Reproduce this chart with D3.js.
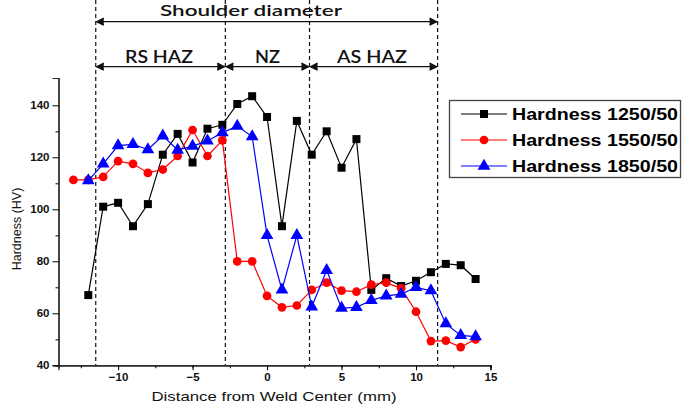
<!DOCTYPE html>
<html><head><meta charset="utf-8">
<script src="https://cdn.jsdelivr.net/npm/d3@7"></script>
<style>body{margin:0;background:#fff}svg{display:block}</style>
</head><body>
<svg id="c" width="685" height="405"></svg>
<script>
const xs1250 = [-12,-11,-10,-9,-8,-7,-6,-5,-4,-3,-2,-1,0,1,2,3,4,5,6,7,8,9,10,11,12,13,14];
const h1250 = [67,101,102.5,93.5,102,121,129,118,131,132.5,140.5,143.5,135.5,93.5,134,121,130,116,127,69,73.5,70.5,72.5,75.8,79,78.5,73.2];
const xs1550 = [-13,-12,-11,-10,-9,-8,-7,-6,-5,-4,-3,-2,-1,0,1,2,3,4,5,6,7,8,9,10,11,12,13,14];
const h1550 = [111.3,111.3,112.5,118.5,117.5,114,115.3,120.5,130.5,120.5,126.5,80,80,66.7,62.3,63,69,71.8,68.7,68.3,71,71.8,69.6,60.6,49.3,49.5,47,50];
const xs1850 = [-12,-11,-10,-9,-8,-7,-6,-5,-4,-3,-2,-1,0,1,2,3,4,5,6,7,8,9,10,11,12,13,14];
const h1850 = [111,117.5,124.5,125,123,128.3,122.8,124.3,126.3,129.5,132,128,90,69,90,62.5,76.5,62,62.3,65,66.7,67.4,70,68.7,56,51.5,51];
const seriesNames = ["Hardness 1250/50","Hardness 1550/50","Hardness 1850/50"];
const xTicks = [-10,-5,0,5,10,15];
const yTicks = [40,60,80,100,120,140];
const zoneBounds = [-11.5,-2.8,2.85,11.45];
const zoneNames = ["RS HAZ","NZ","AS HAZ"];
const topLabel = "Shoulder diameter";

const svg = d3.select("#c");
const x = d3.scaleLinear().domain([-14,15]).range([58.5,490.5]);
const y = d3.scaleLinear().domain([40,150.5]).range([365.3,78]);

// axes
const gx = svg.append("g").attr("transform","translate(0,365.3)");
gx.call(d3.axisBottom(x).tickValues(d3.range(-12.5,15.01,2.5)).tickSize(3).tickFormat(""));
const gx2 = svg.append("g").attr("transform","translate(0,365.3)");
gx2.call(d3.axisBottom(x).tickValues(xTicks).tickSize(5).tickPadding(3).tickFormat(d3.format("d")));
gx2.selectAll("text").attr("font-family","Liberation Sans, Arial").attr("font-size",11.5).attr("font-weight","bold").attr("fill","#111");
[gx,gx2].forEach(g=>g.select(".domain").attr("stroke","#222").attr("stroke-width",1.2));

const gy = svg.append("g").attr("transform","translate(58.5,0)");
gy.call(d3.axisLeft(y).tickValues(d3.range(50,150,20)).tickSize(3).tickFormat(""));
const gy2 = svg.append("g").attr("transform","translate(58.5,0)");
gy2.call(d3.axisLeft(y).tickValues(yTicks).tickSize(6).tickPadding(3).tickFormat(d3.format("d")));
gy2.selectAll("text").attr("font-family","Liberation Sans, Arial").attr("font-size",11.5).attr("font-weight","bold").attr("fill","#111");
[gy,gy2].forEach(g=>g.select(".domain").attr("stroke","#222").attr("stroke-width",1.2));

// axis labels
svg.append("text").attr("x",274).attr("y",401).attr("text-anchor","middle")
  .attr("font-family","Liberation Sans, Arial").attr("font-size",13.5).attr("fill","#111")
  .attr("textLength",245).attr("lengthAdjust","spacingAndGlyphs").text("Distance from Weld Center (mm)");
svg.append("text").attr("transform","translate(21,229) rotate(-90)").attr("text-anchor","middle")
  .attr("font-family","Liberation Sans, Arial").attr("font-size",12.5).attr("fill","#111").text("Hardness (HV)");

// dashed zone lines
svg.selectAll("line.zone").data(zoneBounds).enter().append("line")
  .attr("x1",d=>x(d)).attr("x2",d=>x(d)).attr("y1",0).attr("y2",365)
  .attr("stroke","#111").attr("stroke-width",1.2).attr("stroke-dasharray","4,3");

function arrow(x1,x2,yy){
  const g = svg.append("g").attr("stroke","#111").attr("stroke-width",1.3).attr("fill","none");
  g.append("line").attr("x1",x1+1).attr("x2",x2-1).attr("y1",yy).attr("y2",yy);
  g.append("path").attr("d",`M${x1+8},${yy-3.5}L${x1+1},${yy}L${x1+8},${yy+3.5}`).attr("fill","#111");
  g.append("path").attr("d",`M${x2-8},${yy-3.5}L${x2-1},${yy}L${x2-8},${yy+3.5}`).attr("fill","#111");
}
arrow(x(zoneBounds[0]),x(zoneBounds[3]),21.7);
for(let i=0;i<3;i++) arrow(x(zoneBounds[i]),x(zoneBounds[i+1]),66.7);
svg.append("text").attr("x",251).attr("y",15.5).attr("text-anchor","middle")
  .attr("font-family","Lato, Open Sans").attr("font-size",15.5).attr("font-weight","600").attr("fill","#111")
  .attr("textLength",182).attr("lengthAdjust","spacingAndGlyphs").text(topLabel);
const zoneCenters = [159,267.5,372];
const zoneWidths = [68,25,70];
zoneNames.forEach((n,i)=>svg.append("text").attr("x",zoneCenters[i]).attr("y",63).attr("text-anchor","middle")
  .attr("font-family","Lato, Open Sans").attr("font-size",17).attr("font-weight","600").attr("fill","#111")
  .attr("textLength",zoneWidths[i]).attr("lengthAdjust","spacingAndGlyphs").text(n));

// series
const cols = ["#000000","#ff0000","#0000ff"];
const sets = [[xs1250,h1250],[xs1550,h1550],[xs1850,h1850]];
const line = d3.line().x(d=>x(d[0])).y(d=>y(d[1]));
const symTypes = [d3.symbolSquare,d3.symbolCircle,d3.symbolTriangle];
const symSizes = [64,60,70];
sets.forEach((s,i)=>{
  const pts = s[0].map((v,j)=>[v,s[1][j]]);
  svg.append("path").datum(pts).attr("d",line).attr("fill","none").attr("stroke",cols[i]).attr("stroke-width",1.2);
  svg.append("g").selectAll("path").data(pts).enter().append("path")
    .attr("transform",d=>`translate(${x(d[0])},${y(d[1])})`)
    .attr("d",d3.symbol().type(symTypes[i]).size(symSizes[i])).attr("fill",cols[i]);
});

// legend
const lg = svg.append("g");
lg.append("rect").attr("x",449.5).attr("y",100.5).attr("width",231).attr("height",77).attr("fill","#fff").attr("stroke","#444").attr("stroke-width",1.3);
seriesNames.forEach((n,i)=>{
  const yy = 114 + i*26;
  lg.append("line").attr("x1",461).attr("x2",507).attr("y1",yy).attr("y2",yy).attr("stroke",cols[i]).attr("stroke-width",1.2);
  lg.append("path").attr("transform",`translate(484,${yy})`).attr("d",d3.symbol().type(symTypes[i]).size(symSizes[i])).attr("fill",cols[i]);
  lg.append("text").attr("x",512).attr("y",yy+6).attr("font-family","Liberation Sans, Arial").attr("font-size",16.5).attr("font-weight","bold").attr("fill","#000")
    .attr("textLength",166).attr("lengthAdjust","spacingAndGlyphs").text(n);
});
</script>
</body></html>
